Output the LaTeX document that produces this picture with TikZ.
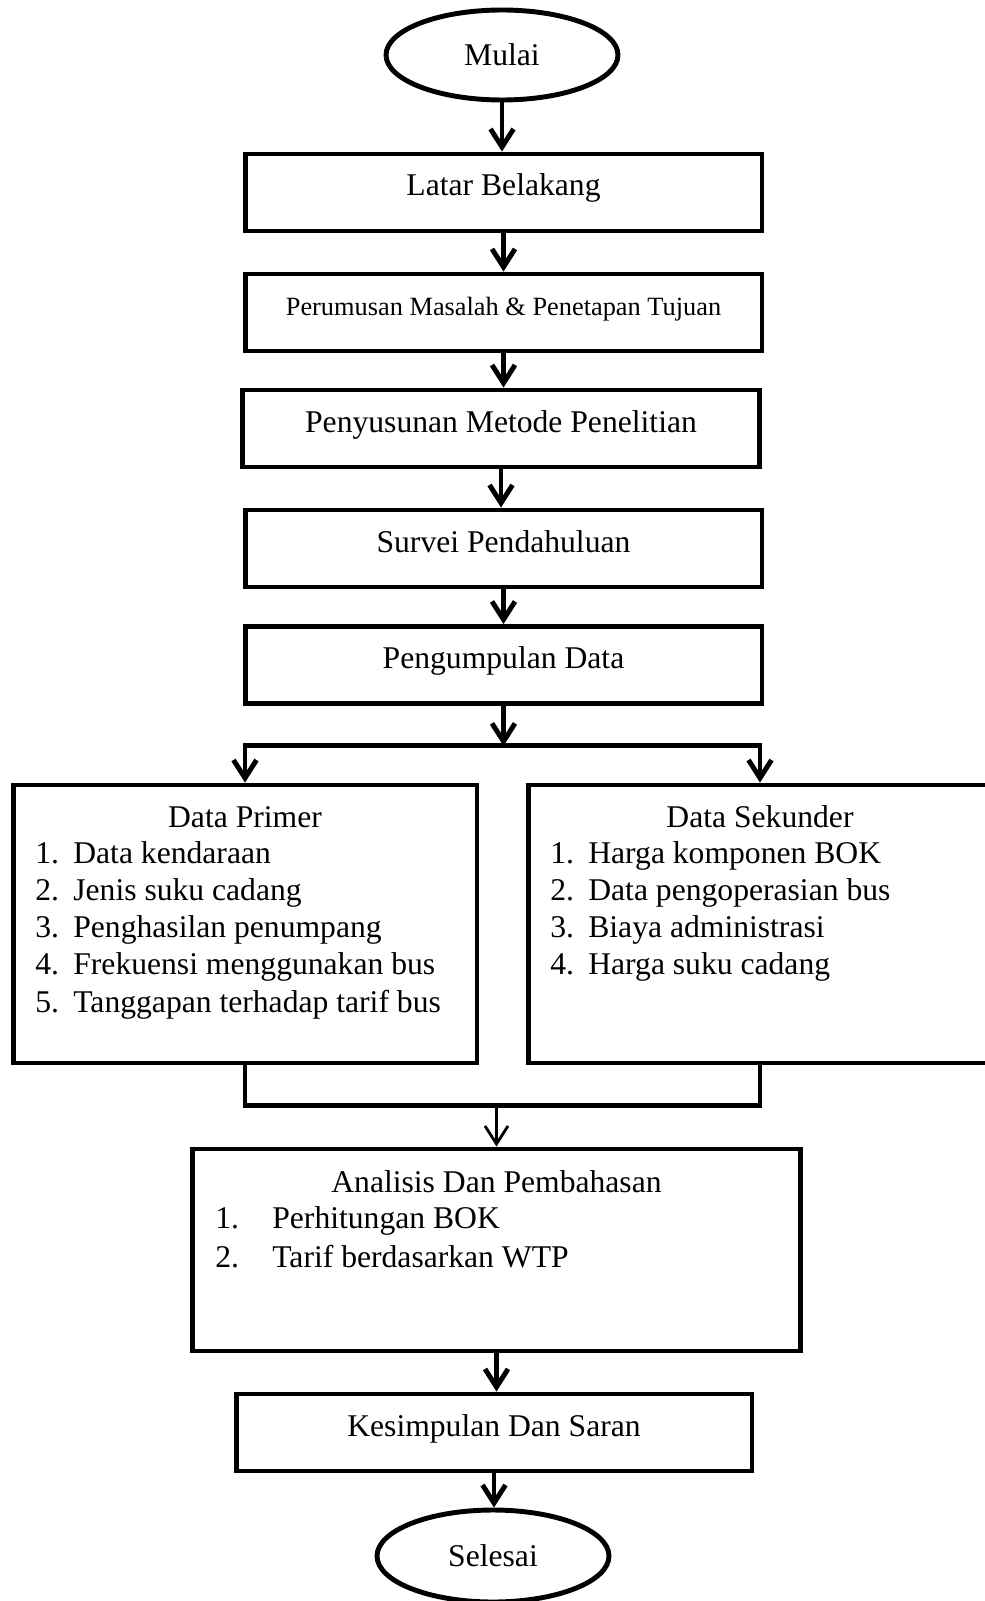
\documentclass[tikz,border=0pt]{standalone}
\usepackage{fontspec}
\setmainfont{Liberation Serif}
\usetikzlibrary{arrows.meta,positioning,calc}
\usetikzlibrary{shapes.geometric}

\begin{document}
\begin{tikzpicture}[x=0.02cm,y=-0.02cm,
    font=\fontsize{18}{21.1}\selectfont,
    box/.style={draw, line width=2.8pt, rectangle, minimum width=10.34cm, minimum height=1.54cm,
                text height=0.45cm, text depth=0.31cm, inner sep=0pt},
    bigbox/.style={draw, line width=2.8pt, rectangle, minimum width=9.28cm, minimum height=5.56cm, inner sep=0pt},
    term/.style={draw, line width=2.8pt, ellipse, minimum width=4.64cm, minimum height=1.84cm, inner sep=0pt},
    arr/.style={line width=2.8pt, -{Straight Barb[length=0.36cm,width=0.46cm]}},
    ln/.style={line width=2.8pt},
    item/.style={anchor=base west, inner sep=0pt}]
            \useasboundingbox (0,0) rectangle (984,1601);
            % main column
            \node[term, minimum height=1.8cm] (mulai) at (502,55) {Mulai};
            \node[box] (latar) at (503.5,192.5) {Latar Belakang};
            \node[box, font=\fontsize{15}{18}\selectfont] (rumusan) at (503.5,312.5) {Perumusan Masalah \& Penetapan Tujuan};
            \node[box] (metode) at (501,428.5) {Penyusunan Metode Penelitian};
            \node[box] (survei) at (503.5,548.5) {Survei Pendahuluan};
            \node[box] (kumpul) at (503.5,665) {Pengumpulan Data};
            % data boxes
            \node[bigbox] (primer) at (245,924) {};
            \node[bigbox] (sekunder) at (760,924) {};
            \node[anchor=base, inner sep=0pt] (primerT) at (245,827) {Data Primer};
            \node[anchor=base, inner sep=0pt] (sekunderT) at (760,827) {Data Sekunder};
            \foreach \t [count=\i] in {Data kendaraan, Jenis suku cadang, Penghasilan penumpang,
                                       Frekuensi menggunakan bus, Tanggapan terhadap tarif bus} {
                \node[item] (pn\i) at (35,{826+37.2*\i}) {\i.};
                \node[item] (pt\i) at (73,{826+37.2*\i}) {\t};
            }
            \foreach \t [count=\i] in {Harga komponen BOK, Data pengoperasian bus, Biaya administrasi,
                                       Harga suku cadang} {
                \node[item] (sn\i) at (550,{826+37.2*\i}) {\i.};
                \node[item] (st\i) at (588,{826+37.2*\i}) {\t};
            }
            % analysis and end
            \node[bigbox, minimum width=12.18cm, minimum height=4.04cm] (analisis) at (496.5,1250) {};
            \node[anchor=base, inner sep=0pt] (analisisT) at (496.5,1192) {Analisis Dan Pembahasan};
            \node[item] (an1) at (215,1228) {1.};
            \node[item] (at1) at (272,1228) {Perhitungan BOK};
            \node[item] (an2) at (215,1267) {2.};
            \node[item] (at2) at (272,1267) {Tarif berdasarkan WTP};
            \node[box, minimum width=10.32cm] (simpul) at (494,1432.5) {Kesimpulan Dan Saran};
            \node[term] (selesai) at (493,1556) {Selesai};
            % connectors
            \draw[arr] (mulai.south) -- (mulai.south |- latar.north);
            \draw[arr] (latar.south) -- (rumusan.north);
            \draw[arr] (rumusan.south) -- (rumusan.south |- metode.north);
            \draw[arr] (metode.south) -- (metode.south |- survei.north);
            \draw[arr] (survei.south) -- (kumpul.north);
            \coordinate (split) at ($(kumpul.south)+(0,40)$);
            \draw[arr] (kumpul.south) -- (split);
            \draw[arr] (split) -- (split -| primer.north) -- (primer.north);
            \draw[arr] (split) -- (split -| sekunder.north) -- (sekunder.north);
            \coordinate (merge) at ($(analisis.north)+(0,-41)$);
            \draw[ln] (primer.south) -- (primer.south |- merge) -- (sekunder.south |- merge) -- (sekunder.south);
            \draw[arr, line width=1.6pt] (merge) -- (analisis.north);
            \draw[arr] (analisis.south) -- (analisis.south |- simpul.north);
            \draw[arr] (simpul.south) -- (simpul.south |- selesai.north);
\end{tikzpicture}
\end{document}
